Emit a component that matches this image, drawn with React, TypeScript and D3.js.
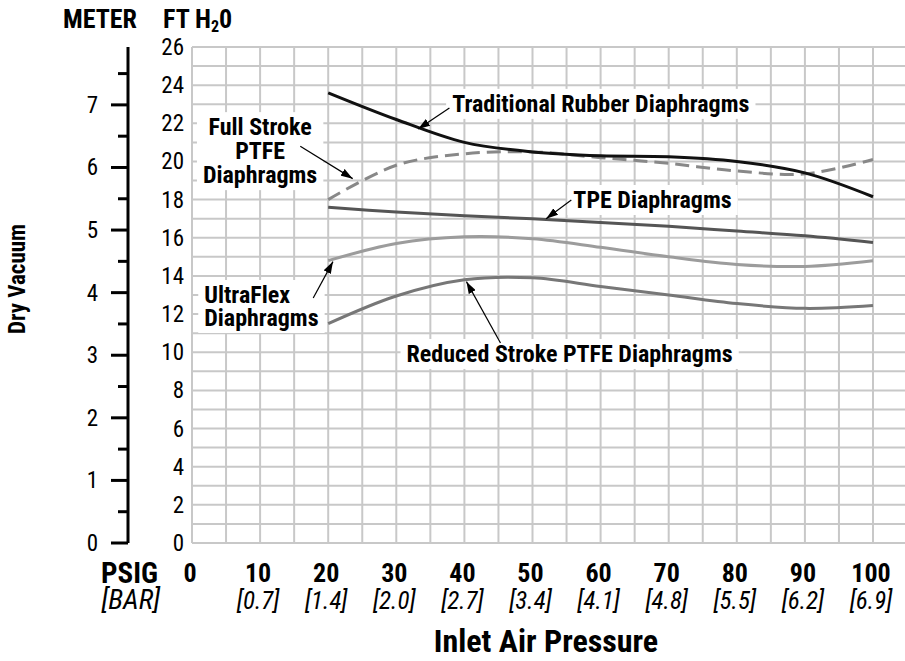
import { useEffect, useRef } from 'react';
import * as d3 from 'd3';

const psi = [20, 30, 40, 50, 60, 70, 80, 90, 100];
const rubber = [23.6, 22.2, 21.0, 20.5, 20.3, 20.25, 20.0, 19.4, 18.15];
const fullStroke = [18.0, 19.8, 20.4, 20.5, 20.2, 19.9, 19.5, 19.35, 20.1];
const tpe = [17.6, 17.35, 17.15, 17.0, 16.8, 16.6, 16.35, 16.1, 15.75];
const ultraFlex = [14.8, 15.7, 16.05, 15.95, 15.5, 15.0, 14.6, 14.5, 14.8];
const reduced = [11.5, 12.95, 13.8, 13.9, 13.45, 13.0, 12.55, 12.3, 12.45];

const psiTicks = [0, 10, 20, 30, 40, 50, 60, 70, 80, 90, 100];
const barTicks = ['', '[0.7]', '[1.4]', '[2.0]', '[2.7]', '[3.4]', '[4.1]', '[4.8]', '[5.5]', '[6.2]', '[6.9]'];
const ftTicks = [0, 2, 4, 6, 8, 10, 12, 14, 16, 18, 20, 22, 24, 26];
const meterTicks = [0, 1, 2, 3, 4, 5, 6, 7];

const FONT = "'Liberation Sans Narrow', 'Roboto Condensed', 'DejaVu Sans Condensed', sans-serif";

export default function App() {
  const svgRef = useRef<SVGSVGElement>(null);

  useEffect(() => {
    if (!svgRef.current) return;
    const width = 905;
    const height = 661;

    d3.select(svgRef.current).selectAll('*').remove();
    const svg = d3.select(svgRef.current).attr('width', width).attr('height', height);

    const x = d3.scaleLinear().domain([0, 100]).range([192, 873]);
    const y = d3.scaleLinear().domain([0, 26]).range([543, 47]);
    const yM = d3.scaleLinear().domain([0, 26 * 0.3048]).range([543, 47]);

    svg.append('rect').attr('width', width).attr('height', height).attr('fill', '#fff');

    const defs = svg.append('defs');
    defs
      .append('marker')
      .attr('id', 'arrow')
      .attr('viewBox', '0 0 12 8')
      .attr('refX', 12)
      .attr('refY', 4)
      .attr('markerWidth', 12)
      .attr('markerHeight', 8)
      .attr('markerUnits', 'userSpaceOnUse')
      .attr('orient', 'auto')
      .append('path')
      .attr('d', 'M0,0 L12,4 L0,8 Z')
      .attr('fill', '#000');

    // grid
    const grid = svg.append('g').attr('stroke', '#c8c8c8').attr('stroke-width', 2);
    grid
      .selectAll('line.h')
      .data(d3.range(0, 27, 1))
      .enter()
      .append('line')
      .attr('x1', x(0))
      .attr('x2', width)
      .attr('y1', (d) => y(d))
      .attr('y2', (d) => y(d));
    grid
      .selectAll('line.v')
      .data(d3.range(0, 101, 5))
      .enter()
      .append('line')
      .attr('x1', (d) => x(d))
      .attr('x2', (d) => x(d))
      .attr('y1', y(0))
      .attr('y2', y(26));

    const labels = svg.append('g').attr('font-family', FONT).attr('font-weight', 'bold').attr('font-size', 24).attr('fill', '#000');
    const boxes = svg.append('g');

    const addLabel = (lines: string[], px: number, ft: number, anchor: string, lh = 24) => {
      const g = labels.append('g');
      lines.forEach((t, i) => {
        g.append('text')
          .attr('x', x(px))
          .attr('y', y(ft) + i * lh)
          .attr('text-anchor', anchor)
          .text(t);
      });
      const bb = (g.node() as SVGGElement).getBBox();
      boxes
        .append('rect')
        .attr('x', bb.x - 6)
        .attr('y', bb.y - 1)
        .attr('width', bb.width + 12)
        .attr('height', bb.height + 2)
        .attr('fill', '#fff');
    };

    addLabel(['Traditional Rubber Diaphragms'], 38.2, 22.6, 'start');
    addLabel(['TPE Diaphragms'], 56, 17.56, 'start');
    addLabel(['Full Stroke', 'PTFE', 'Diaphragms'], 10, 21.38, 'middle');
    addLabel(['UltraFlex', 'Diaphragms'], 1.8, 12.58, 'start', 23);
    addLabel(['Reduced Stroke PTFE Diaphragms'], 31.5, 9.49, 'start');
    labels.raise();

    // curves
    const series = [
      { vals: reduced, color: '#777', dash: null },
      { vals: ultraFlex, color: '#9c9c9c', dash: null },
      { vals: tpe, color: '#555', dash: null },
      { vals: fullStroke, color: '#888', dash: '14,7' },
      { vals: rubber, color: '#111', dash: null },
    ];
    const line = d3
      .line<number>()
      .x((_, i) => x(psi[i]))
      .y((d) => y(d))
      .curve(d3.curveCatmullRom.alpha(0.5));
    svg
      .append('g')
      .selectAll('path')
      .data(series)
      .enter()
      .append('path')
      .attr('fill', 'none')
      .attr('stroke', (d) => d.color)
      .attr('stroke-width', 3)
      .attr('stroke-dasharray', (d) => d.dash)
      .attr('d', (d) => line(d.vals));

    // arrows [fromPsi, fromFt, toPsi, toFt]
    const arrows = [
      [37.8, 22.8, 33.2, 21.7],
      [15.9, 20.8, 23.6, 19.1],
      [55.7, 17.98, 52, 17.0],
      [17.8, 12.84, 20.7, 14.75],
      [45.3, 10.48, 40.3, 13.7],
    ];
    svg
      .append('g')
      .selectAll('line')
      .data(arrows)
      .enter()
      .append('line')
      .attr('x1', (d) => x(d[0]))
      .attr('y1', (d) => y(d[1]))
      .attr('x2', (d) => x(d[2]))
      .attr('y2', (d) => y(d[3]))
      .attr('stroke', '#000')
      .attr('stroke-width', 1.2)
      .attr('marker-end', 'url(#arrow)');

    // ft axis labels
    svg
      .append('g')
      .selectAll('text')
      .data(ftTicks)
      .enter()
      .append('text')
      .attr('x', 184)
      .attr('y', (d) => y(d) + 8)
      .attr('text-anchor', 'end')
      .attr('font-family', FONT)
      .attr('font-size', 23)
      .text((d) => d);

    // meter axis
    const m = svg.append('g');
    m.append('line').attr('x1', 128).attr('x2', 128).attr('y1', y(26)).attr('y2', y(0)).attr('stroke', '#000').attr('stroke-width', 3);
    m.selectAll('line.t')
      .data(d3.range(0, 8, 0.5))
      .enter()
      .append('line')
      .attr('x1', (d) => (d % 1 === 0 ? 111 : 118))
      .attr('x2', 128)
      .attr('y1', (d) => yM(d))
      .attr('y2', (d) => yM(d))
      .attr('stroke', '#000')
      .attr('stroke-width', 3);
    m.selectAll('text')
      .data(meterTicks)
      .enter()
      .append('text')
      .attr('x', 98)
      .attr('y', (d) => yM(d) + 8)
      .attr('text-anchor', 'end')
      .attr('font-family', FONT)
      .attr('font-size', 23)
      .text((d) => d);

    // headers
    const hdr = svg.append('g').attr('font-family', FONT).attr('font-weight', 'bold').attr('font-size', 26);
    hdr.append('text').attr('x', 63).attr('y', 28).text('METER');
    const ft = hdr.append('text').attr('x', 163).attr('y', 28);
    ft.append('tspan').text('FT H');
    ft.append('tspan').attr('font-size', 16).attr('dy', 4).text('2');
    ft.append('tspan').attr('dy', -4).text('0');

    svg
      .append('text')
      .attr('transform', `translate(25,279) rotate(-90)`)
      .attr('text-anchor', 'middle')
      .attr('font-family', FONT)
      .attr('font-weight', 'bold')
      .attr('font-size', 23)
      .text('Dry Vacuum');

    // x axis labels
    const xa = svg.append('g').attr('font-family', FONT).attr('text-anchor', 'middle');
    xa.selectAll('text.p')
      .data(psiTicks)
      .enter()
      .append('text')
      .attr('x', (d) => x(d) - 2)
      .attr('y', 582)
      .attr('font-weight', 'bold')
      .attr('font-size', 26)
      .text((d) => d);
    xa.selectAll('text.b')
      .data(barTicks)
      .enter()
      .append('text')
      .attr('x', (_, i) => x(psiTicks[i]) - 2)
      .attr('y', 609)
      .attr('font-style', 'italic')
      .attr('font-size', 25)
      .text((d) => d);
    xa.append('text').attr('x', 158).attr('y', 583).attr('text-anchor', 'end').attr('font-weight', 'bold').attr('font-size', 29).text('PSIG');
    xa.append('text').attr('x', 160).attr('y', 609).attr('text-anchor', 'end').attr('font-style', 'italic').attr('font-size', 28).text('[BAR]');
    xa.append('text').attr('x', 546).attr('y', 652).attr('font-weight', 'bold').attr('font-size', 32).text('Inlet Air Pressure');
  }, []);

  return (
    <div style={{ position: 'absolute', left: 0, top: 0 }}>
      <svg ref={svgRef}></svg>
    </div>
  );
}
